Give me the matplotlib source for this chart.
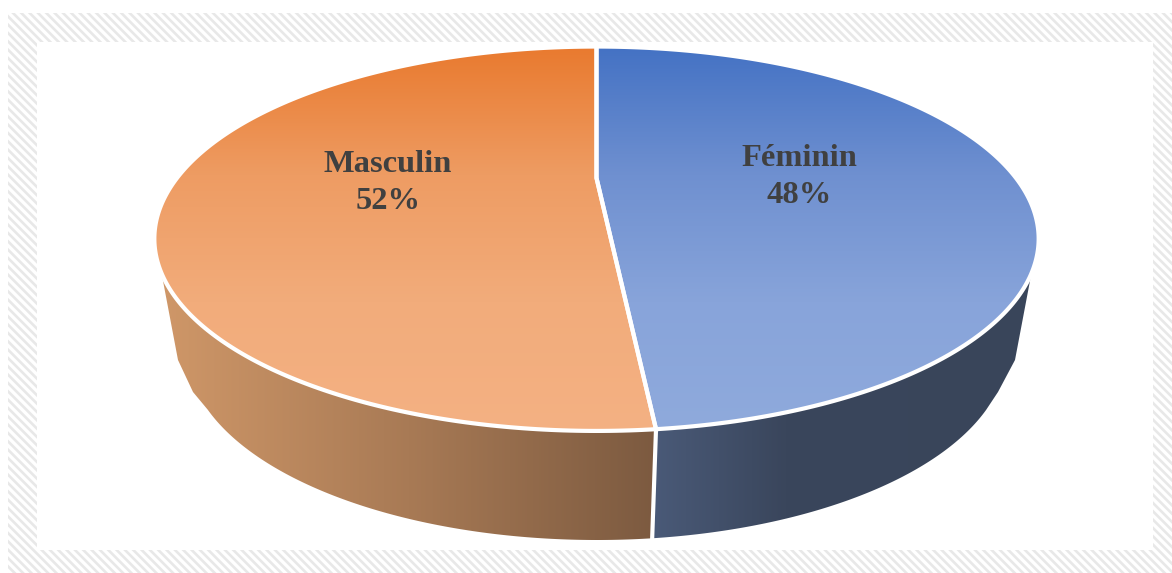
import numpy as np
import matplotlib
matplotlib.use("Agg")
import matplotlib.pyplot as plt
from matplotlib.colors import LinearSegmentedColormap
from matplotlib.patches import Polygon, Rectangle

categories = ["Féminin", "Masculin"]
shares = [48.45, 51.55]
label_x = [799, 388]
label_y = [177, 183]

plt.rcParams["hatch.linewidth"] = 1.9
plt.rcParams["hatch.color"] = "#e8e8e8"

fig = plt.figure(figsize=(11.72, 5.73), dpi=100)
ax = fig.add_axes([0, 0, 1, 1])
ax.set_xlim(0, 1172)
ax.set_ylim(573, 0)
ax.axis("off")

# hatched frame with white panel inside
ax.add_patch(Rectangle((8, 13), 1164, 560, facecolor="white", edgecolor="#e8e8e8", hatch="\\\\\\\\", lw=0))
ax.add_patch(Rectangle((37, 42), 1116, 508, facecolor="white", edgecolor="none", zorder=1))


# perspective view of a disc, angle measured clockwise from the top
def disc(theta, cx, cy, w, h, k):
    c = np.cos(theta)
    return np.column_stack([cx + w * np.sin(theta) / (1 + k * c), cy - h * c / (1 + k * c)])


top = dict(cx=596.5, cy=178, w=419.5, h=173, k=0.316)
low = dict(cx=597, cy=290, w=389, h=171, k=0.316)

split = 2 * np.pi * shares[0] / sum(shares)
sides = [(0, split), (split, 2 * np.pi)]

top_cmaps = [
    LinearSegmentedColormap.from_list("t0", ["#4472c4", "#6f90d0", "#88a4da", "#8faadc"]),
    LinearSegmentedColormap.from_list("t1", ["#e97a2f", "#ee9c63", "#f2ac7b", "#f4b183"]),
]
wall_cmaps = [
    LinearSegmentedColormap.from_list("w0", [(0, "#4a5a78"), (0.35, "#3a465c"), (1, "#39455a")]),
    LinearSegmentedColormap.from_list("w1", [(0, "#cf9768"), (0.5, "#a87a55"), (1, "#7c5a40")]),
]
top_ends = [np.radians(118), np.radians(360 - 118)]
low_ends = [np.radians(125), np.radians(360 - 125)]
corners = [[(998, 392), (1015, 360)], [(193, 392), (178, 360)]]

# side walls
for i in range(2):
    th_top = np.linspace(top_ends[i], split, 120)
    th_low = np.linspace(split, low_ends[i], 120)
    pts = np.vstack([disc(th_top, **top), disc(th_low, **low), corners[i]])
    poly = Polygon(pts, closed=True, facecolor="none", edgecolor="none", zorder=2)
    ax.add_patch(poly)
    x0, x1 = pts[:, 0].min(), pts[:, 0].max()
    im = ax.imshow(np.linspace(0, 1, 256)[None, :], cmap=wall_cmaps[i], extent=(x0, x1, 545, 250),
                   aspect="auto", zorder=2)
    im.set_clip_path(poly)

ax.set_xlim(0, 1172)
ax.set_ylim(573, 0)

# seam between the two walls
seam = disc(np.array([split, split]), **top)
seam[1] = disc(np.array([split]), **low)[0]
ax.plot(seam[:, 0], seam[:, 1], color="white", lw=3, zorder=3)

# top face
for i, (a, b) in enumerate(sides):
    th = np.linspace(a, b, 300)
    pts = np.vstack([[top["cx"], top["cy"]], disc(th, **top)])
    poly = Polygon(pts, closed=True, facecolor="none", edgecolor="none", zorder=4)
    ax.add_patch(poly)
    im = ax.imshow(np.linspace(0, 1, 256)[:, None], cmap=top_cmaps[i], extent=(150, 1045, 430, 47),
                   origin="upper", aspect="auto", zorder=4)
    im.set_clip_path(poly)
    ax.add_patch(Polygon(pts, closed=True, facecolor="none", edgecolor="white", lw=3, zorder=5))

ax.set_xlim(0, 1172)
ax.set_ylim(573, 0)

total = sum(shares)
for name, val, x, y in zip(categories, shares, label_x, label_y):
    ax.text(x, y, f"{name}\n{val / total * 100:.0f}%", ha="center", va="center", fontsize=23.4,
            fontweight="bold", family="Liberation Serif", color="#404040", linespacing=1.4, zorder=6)

fig.savefig("out.png", dpi=100)
